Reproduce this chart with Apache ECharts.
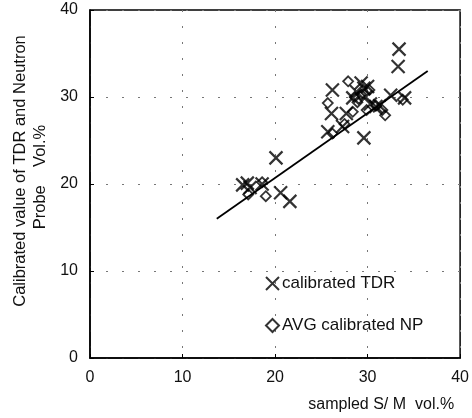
<!DOCTYPE html>
<html>
<head>
<meta charset="utf-8">
<script src="https://cdn.jsdelivr.net/npm/echarts@6/dist/echarts.min.js"></script>
<style>
  html, body { margin: 0; padding: 0; background: #fff; }
  #chart { width: 472px; height: 418px; }
</style>
</head>
<body>
<div id="chart"></div>
<script>
// calibrated TDR readings [sampled S/M, calibrated]
var tdrPoints = [
    [16.5, 19.9], [17.0, 20.1], [17.3, 19.6], [18.6, 20.0], [20.1, 23.0],
    [20.6, 19.0], [21.6, 18.0], [25.7, 26.0], [26.1, 28.1], [26.2, 30.8],
    [27.3, 26.6], [27.7, 28.1], [28.4, 29.9], [28.8, 30.6], [29.3, 31.6],
    [29.6, 31.0], [29.6, 25.3], [30.0, 31.2], [29.8, 30.0], [30.3, 29.2],
    [30.9, 28.9], [31.3, 29.0], [32.5, 30.2], [33.4, 35.5], [33.3, 33.5],
    [34.0, 29.9]
];
// averaged neutron probe readings
var npPoints = [
    [17.1, 18.8], [18.6, 20.2], [19.0, 18.6], [25.7, 29.3], [26.2, 25.8],
    [27.5, 26.9], [27.9, 31.8], [28.4, 28.3], [28.6, 30.0], [28.9, 29.4],
    [29.3, 30.3], [29.9, 28.5], [30.2, 30.8], [30.9, 29.0], [31.6, 28.5],
    [31.9, 27.9], [33.8, 29.7]
];
// regression line end points
var fitLine = [[13.7, 16.0], [36.5, 33.0]];

var seriesNames = ['calibrated TDR', 'AVG calibrated NP'];
var yNameLines = ['Calibrated value of TDR and Neutron', 'Probe    Vol.%'];
var crossPath = 'path://M0,0L10,10M10,0L0,10';
var font = 'Liberation Sans, Arial, sans-serif';

var myChart = echarts.init(document.getElementById('chart'));
var option = {
    backgroundColor: '#fff',
    animation: false,
    grid: {
        left: 90, right: 11, top: 10, bottom: 60,
        show: true,
        borderColor: '#000',
        borderWidth: 1.5
    },
    // y axis title, two centred rotated lines
    graphic: [
        {
            type: 'text', x: 20, y: 171, rotation: Math.PI / 2,
            style: { text: yNameLines[0], font: '16.5px ' + font, fill: '#111',
                     textAlign: 'center', textVerticalAlign: 'middle' }
        },
        {
            type: 'text', x: 40, y: 177, rotation: Math.PI / 2,
            style: { text: yNameLines[1], font: '16.5px ' + font, fill: '#111',
                     textAlign: 'center', textVerticalAlign: 'middle' }
        }
    ],
    legend: {
        orient: 'vertical',
        left: 260,
        top: 270,
        itemGap: 25,
        itemWidth: 13,
        itemHeight: 13,
        textStyle: { fontFamily: font, fontSize: 17, color: '#111', padding: [0, 0, 0, -2] },
        data: seriesNames
    },
    xAxis: {
        type: 'value',
        min: 0, max: 40, interval: 10,
        name: 'sampled S/ M  vol.%',
        nameLocation: 'end',
        nameGap: -6,
        nameTextStyle: {
            fontFamily: font, fontSize: 16, color: '#111',
            align: 'right', verticalAlign: 'top', padding: [39, 0, 0, 0]
        },
        axisLine: { lineStyle: { color: '#000', width: 1.5 } },
        axisTick: { inside: true, length: 4, lineStyle: { color: '#000' } },
        axisLabel: { fontFamily: font, fontSize: 16, color: '#111', margin: 12 },
        splitLine: { show: true, lineStyle: { color: '#777', type: [2, 14] } }
    },
    yAxis: {
        type: 'value',
        min: 0, max: 40, interval: 10,
        axisLine: { lineStyle: { color: '#000', width: 1.5 } },
        axisTick: { inside: true, length: 4, lineStyle: { color: '#000' } },
        axisLabel: { fontFamily: font, fontSize: 16, color: '#111', margin: 12 },
        splitLine: { show: true, lineStyle: { color: '#777', type: [2, 14] } }
    },
    series: [
        {
            name: seriesNames[0],
            type: 'scatter',
            symbol: crossPath,
            symbolSize: 13,
            itemStyle: { color: 'transparent', borderColor: '#000', borderWidth: 2.2 },
            data: tdrPoints
        },
        {
            name: seriesNames[1],
            type: 'scatter',
            symbol: 'diamond',
            symbolSize: 10,
            itemStyle: { color: 'transparent', borderColor: '#000', borderWidth: 1.8 },
            data: npPoints
        },
        {
            name: 'fit',
            type: 'line',
            showSymbol: false,
            lineStyle: { color: '#000', width: 1.8 },
            data: fitLine
        }
    ]
};
myChart.setOption(option);
</script>
</body>
</html>
